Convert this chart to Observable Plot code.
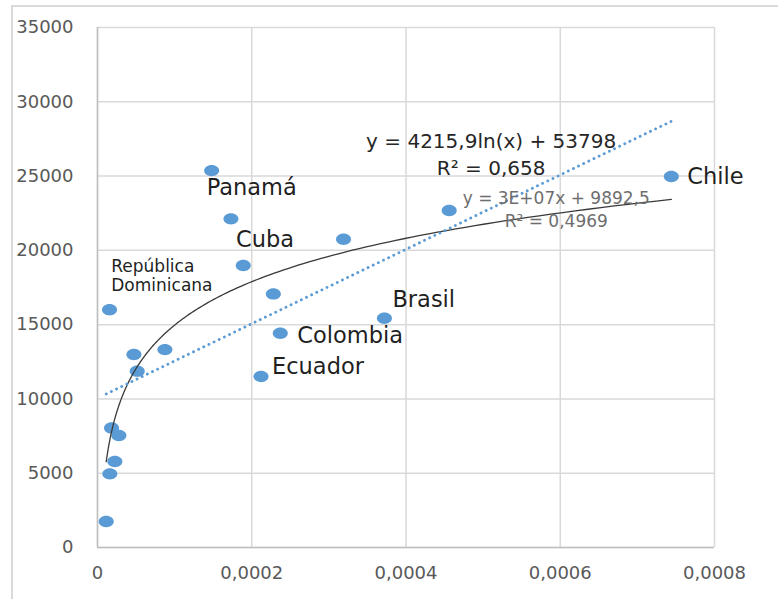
<!DOCTYPE html>
<html>
<head>
<meta charset="utf-8">
<script src="https://cdn.jsdelivr.net/npm/d3@7"></script>
<script src="https://cdn.jsdelivr.net/npm/@observablehq/plot@0.6"></script>
<style>
  body { margin: 0; background: #fff; }
  #chart { position: relative; width: 778px; height: 599px; }
  #frame {
    position: absolute; left: 11px; top: 5px; right: 0; bottom: 0;
    border-top: 2px solid #d9d9d9; border-left: 2px solid #d9d9d9;
    pointer-events: none;
  }
</style>
</head>
<body>
<div id="chart"><div id="frame"></div></div>
<script>
// Scatter values (x ratio, y value) and the country names shown as labels
const xValues = [0.000148, 0.000173, 0.000189, 0.000319, 0.000228, 0.0000156, 0.000237,
  0.000372, 0.0000472, 0.0000874, 0.0000515, 0.000212, 0.0000182, 0.0000277,
  0.0000225, 0.000016, 0.0000113, 0.000456, 0.000744];
const yValues = [25370, 22120, 18980, 20750, 17070, 16000, 14420,
  15430, 12990, 13320, 11870, 11510, 8050, 7540,
  5790, 4960, 1750, 22680, 24970];
const labels = ["Panamá", "Cuba", "República\nDominicana", "", "", "", "Colombia",
  "Brasil", "", "", "", "Ecuador", "", "",
  "", "", "", "", "Chile"];

// Logarithmic trend: y = a·ln(x) + b, with its R²
const logCoef = [4215.9, 53798];
const logR2 = 0.658;
// Linear trend label text
const linearLabel = ["y = 3E+07x + 9892,5", "R² = 0,4969"];

// Axis ticks and their labels
const xTicks = [0, 0.0002, 0.0004, 0.0006, 0.0008];
const xTickLabels = ["0", "0,0002", "0,0004", "0,0006", "0,0008"];
const yTicks = [0, 5000, 10000, 15000, 20000, 25000, 30000, 35000];
const yTickLabels = ["0", "5000", "10000", "15000", "20000", "25000", "30000", "35000"];

const points = xValues.map((x, i) => ({x, y: yValues[i], name: labels[i]}));

// Log trend sampled across the data's x extent
const [xMin, xMax] = d3.extent(xValues);
const logCurve = d3.range(0, 161).map(i => {
  const x = xMin * Math.pow(xMax / xMin, i / 160);
  return {x, y: logCoef[0] * Math.log(x) + logCoef[1]};
});

const comma = v => String(v).replace(".", ",");
const logLabel = `y = ${comma(logCoef[0])}ln(x) + ${comma(logCoef[1])}\nR² = ${comma(logR2)}`;

// Slightly oval marker
const oval = {
  draw(context, size) {
    const r = Math.sqrt(size / Math.PI);
    const rx = r * 1.14, ry = r * 0.86, k = 0.5523;
    context.moveTo(rx, 0);
    context.bezierCurveTo(rx, k * ry, k * rx, ry, 0, ry);
    context.bezierCurveTo(-k * rx, ry, -rx, k * ry, -rx, 0);
    context.bezierCurveTo(-rx, -k * ry, -k * rx, -ry, 0, -ry);
    context.bezierCurveTo(k * rx, -ry, rx, -k * ry, rx, 0);
    context.closePath();
  }
};

// Label placement relative to each labelled point
const labelPlacement = [
  {name: "Panamá", dx: -5, dy: 16},
  {name: "Cuba", dx: 5, dy: 20},
  {name: "República\nDominicana", dx: -132, dy: 10, size: 17},
  {name: "Colombia", dx: 17, dy: 2},
  {name: "Brasil", dx: 8, dy: -19},
  {name: "Ecuador", dx: 11, dy: -11},
  {name: "Chile", dx: 16, dy: -1}
];

const font = "DejaVu Sans";
const grid = "#d9d9d9";

const chart = Plot.plot({
  width: 778,
  height: 599,
  marginLeft: 97,
  marginRight: 64,
  marginTop: 27,
  marginBottom: 52,
  style: {fontFamily: font, background: "white"},
  x: {domain: [0, 0.0008]},
  y: {domain: [0, 35000]},
  marks: [
    Plot.gridX(xTicks, {stroke: grid, strokeOpacity: 1, strokeWidth: 1.5}),
    Plot.gridY(yTicks, {stroke: grid, strokeOpacity: 1, strokeWidth: 1.5}),
    Plot.ruleX([0], {stroke: "#bfbfbf", strokeWidth: 1.5}),
    Plot.ruleY([0], {stroke: "#bfbfbf", strokeWidth: 1.5}),
    Plot.axisX({ticks: xTicks, tickFormat: (d, i) => xTickLabels[i], tickSize: 0, tickPadding: 19,
      fontSize: 18, fill: "#595959", label: null}),
    Plot.axisY({ticks: yTicks, tickFormat: (d, i) => yTickLabels[i], tickSize: 0, tickPadding: 24,
      fontSize: 18, fill: "#595959", label: null}),
    Plot.dot(points, {x: "x", y: "y", r: 6.6, symbol: oval, fill: "#5b9bd5", stroke: "none"}),
    Plot.line(logCurve, {x: "x", y: "y", stroke: "#3a3a3a", strokeWidth: 1.3}),
    Plot.linearRegressionY(points, {x: "x", y: "y", ci: 0, stroke: "#5b9bd5", strokeWidth: 2.8,
      strokeDasharray: "0.1 5.6", strokeLinecap: "round"}),
    ...labelPlacement.map(p => Plot.text(points.filter(d => d.name === p.name), {
      x: "x", y: "y", text: "name", dx: p.dx, dy: p.dy, textAnchor: "start",
      lineAnchor: "middle", lineHeight: 1.12, fontSize: p.size || 22.5, fill: "#1f1f1f"
    })),
    Plot.text([logLabel], {x: 0.0005104, y: 26580, text: d => d, textAnchor: "middle",
      lineAnchor: "middle", lineHeight: 1.35, fontSize: 20, fill: "#262626"}),
    Plot.text([linearLabel.join("\n")], {x: 0.0005948, y: 22810, text: d => d, textAnchor: "middle",
      lineAnchor: "middle", lineHeight: 1.35, fontSize: 17, fill: "#6e6e6e"})
  ]
});

const holder = document.getElementById("chart");
holder.insertBefore(chart, holder.firstChild);
</script>
</body>
</html>
